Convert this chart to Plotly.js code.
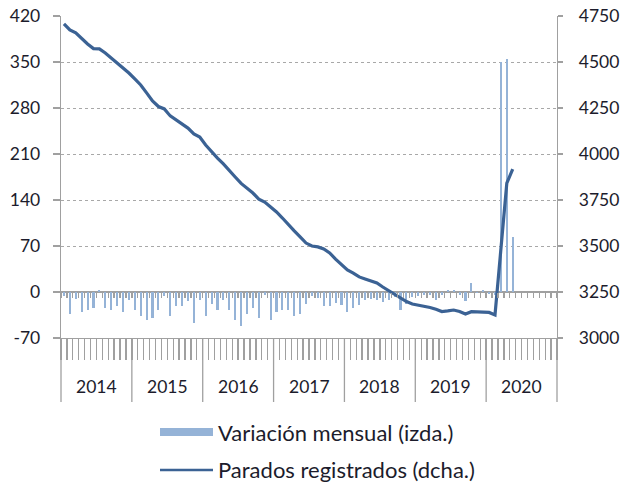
<!DOCTYPE html>
<html>
<head>
<meta charset="utf-8">
<script src="https://cdn.plot.ly/plotly-3.0.1.min.js"></script>
<style>
  html, body { margin: 0; padding: 0; background: #fff; }
  #chart { width: 621px; height: 483px; }
</style>
</head>
<body>
<div id="chart"></div>
<script>
// ---- Data (Jan 2014 .. May 2020, monthly) ----
const years = ['2014', '2015', '2016', '2017', '2018', '2019', '2020'];
const monthsPerYear = 12;

// Variación mensual (miles, eje izquierdo)
const variacion = [
  -6, -33, -10, -30, -27, -24, 3, -24, -28, -22, -31, -12,
  -28, -37, -42, -40, -28, -6, -37, -22, -22, -14, -47, -12,
  -37, -19, -28, -12, -28, -42, -51, -34, -25, -40, -4, -42,
  -30, -27, -27, -37, -33, -19, -6, -9, -21, -22, -17, -20,
  -30, -25, -20, -12, -10, -12, -15, -12, -7, -28, -18, -7,
  -6, -5, -5, -12, -4, 3, 3, -4, -13, 13, -2, 3,
  -3, -4, 350, 355, 84
];

// Parados registrados (miles, eje derecho)
const parados = [
  4707, 4674, 4658, 4625, 4598, 4573, 4571, 4549, 4522, 4495, 4467, 4440,
  4408, 4375, 4332, 4288, 4258, 4245, 4207, 4185, 4167, 4141, 4109, 4092,
  4049, 4011, 3978, 3946, 3913, 3875, 3840, 3815, 3788, 3755, 3739, 3712,
  3685, 3652, 3620, 3582, 3549, 3516, 3500, 3495, 3484, 3462, 3429, 3402,
  3370, 3353, 3332, 3321, 3311, 3299, 3277, 3258, 3239, 3217, 3198, 3185,
  3179, 3174, 3166, 3156, 3144, 3147, 3152, 3144, 3130, 3143, 3143, 3143,
  3139, 3125, 3480, 3842, 3918
];

const leftTicks = [-70, 0, 70, 140, 210, 280, 350, 420];
const leftTickText = ['-70', '0', '70', '140', '210', '280', '350', '420'];
const rightTicks = [3000, 3250, 3500, 3750, 4000, 4250, 4500, 4750];
const serieNames = ['Variación mensual (izda.)', 'Parados registrados (dcha.)'];

// ---- Derived helpers ----
const nMonths = years.length * monthsPerYear;
const monthIdx = variacion.map((_, i) => i);
const monthLabels = variacion.map((_, i) => years[Math.floor(i / 12)] + '-' + String(i % 12 + 1).padStart(2, '0'));
const boundaries = [];
for (let k = 0; k <= nMonths; k++) boundaries.push(k - 0.5);

const FONT = 'Lato, "Open Sans", sans-serif';
const TXT = '#1c1c2c';
const GRAY = '#a0a0a0';
const BAR = '#95b3d7';
const LINE = '#3b6294';
const AX_FS = 17.5;
const LEG_FS = 22;

const traces = [
  {
    type: 'bar', name: serieNames[0], x: monthIdx, y: variacion,
    text: monthLabels, hoverinfo: 'text+y', textposition: 'none',
    marker: { color: BAR }, width: 0.36,
    xaxis: 'x', yaxis: 'y', showlegend: false
  },
  {
    type: 'scatter', mode: 'lines', name: serieNames[1], x: monthIdx, y: parados,
    text: monthLabels, hoverinfo: 'text+y',
    line: { color: LINE, width: 3.2 },
    xaxis: 'x2', yaxis: 'y2', showlegend: false
  }
];

// paper helpers for the area below the plot
const plotTop = 16, plotBottom = 338, plotH = plotBottom - plotTop;
const plotLeft = 61, plotRight = 557, plotW = plotRight - plotLeft;
const py = Y => (plotBottom - Y) / plotH;
const px = X => (X - plotLeft) / plotW;

const shapes = [];
const annotations = [];
// year separators (category groups)
for (let k = 0; k <= years.length; k++) {
  shapes.push({
    type: 'line', xref: 'paper', yref: 'paper',
    x0: k / years.length, x1: k / years.length, y0: 0, y1: py(402),
    line: { color: GRAY, width: 1.3 }
  });
}
years.forEach((yr, k) => {
  annotations.push({
    text: yr, xref: 'x', yref: 'paper', x: k * 12 + 5.5, y: py(386),
    xanchor: 'center', yanchor: 'middle', showarrow: false,
    font: { family: FONT, size: AX_FS, color: TXT }
  });
});
// legend (drawn manually)
shapes.push({
  type: 'rect', xref: 'paper', yref: 'paper',
  x0: px(160), x1: px(213), y0: py(436), y1: py(428),
  fillcolor: BAR, line: { width: 0 }
});
shapes.push({
  type: 'line', xref: 'paper', yref: 'paper',
  x0: px(160), x1: px(213), y0: py(470), y1: py(470),
  line: { color: LINE, width: 2.5 }
});
annotations.push({
  text: serieNames[0], xref: 'paper', yref: 'paper', x: px(216), y: py(432),
  xanchor: 'left', yanchor: 'middle', showarrow: false,
  font: { family: FONT, size: LEG_FS, color: TXT }
});
annotations.push({
  text: serieNames[1], xref: 'paper', yref: 'paper', x: px(216), y: py(469),
  xanchor: 'left', yanchor: 'middle', showarrow: false,
  font: { family: FONT, size: LEG_FS, color: TXT }
});

const layout = {
  width: 621, height: 483,
  margin: { l: plotLeft, r: 621 - plotRight, t: plotTop, b: 483 - plotBottom, pad: 0 },
  paper_bgcolor: '#fff', plot_bgcolor: '#fff',
  font: { family: FONT, size: AX_FS, color: TXT },
  showlegend: false,
  bargap: 0,
  xaxis: {
    type: 'linear', range: [-0.5, nMonths - 0.5],
    tickmode: 'array', tickvals: boundaries, ticktext: boundaries.map(() => ''),
    showticklabels: false, ticks: 'outside', ticklen: 21, tickwidth: 1.3, tickcolor: GRAY,
    showline: true, linecolor: GRAY, linewidth: 1.3,
    showgrid: false, zeroline: false, fixedrange: true
  },
  xaxis2: {
    type: 'linear', range: [-0.5, nMonths - 0.5], overlaying: 'x',
    anchor: 'free', position: (0 - leftTicks[0]) / (leftTicks[leftTicks.length - 1] - leftTicks[0]),
    tickmode: 'array', tickvals: boundaries, ticktext: boundaries.map(() => ''),
    showticklabels: false, ticks: 'outside', ticklen: 5, tickwidth: 1.3, tickcolor: GRAY,
    showline: false, showgrid: false, zeroline: false, fixedrange: true
  },
  yaxis: {
    range: [leftTicks[0], leftTicks[leftTicks.length - 1]],
    tickmode: 'array', tickvals: leftTicks, ticktext: leftTickText,
    ticks: 'outside', ticklen: 7, tickwidth: 1.3, tickcolor: GRAY,
    ticklabelstandoff: 9,
    showline: true, linecolor: GRAY, linewidth: 1.3,
    showgrid: true, gridcolor: '#a8a8a8', griddash: 'dot', gridwidth: 1,
    zeroline: true, zerolinecolor: GRAY, zerolinewidth: 1.3,
    tickfont: { family: FONT, size: AX_FS, color: TXT }, fixedrange: true
  },
  yaxis2: {
    range: [rightTicks[0], rightTicks[rightTicks.length - 1]],
    overlaying: 'y', side: 'right', anchor: 'x',
    tickmode: 'array', tickvals: rightTicks,
    ticks: 'outside', ticklen: 5, tickwidth: 1.3, tickcolor: GRAY,
    ticklabelstandoff: 12,
    showline: true, linecolor: GRAY, linewidth: 1.3,
    showgrid: false, zeroline: false,
    tickfont: { family: FONT, size: AX_FS, color: TXT }, fixedrange: true
  },
  shapes: shapes,
  annotations: annotations
};

Plotly.newPlot('chart', traces, layout, { displayModeBar: false, staticPlot: true });
</script>
</body>
</html>
